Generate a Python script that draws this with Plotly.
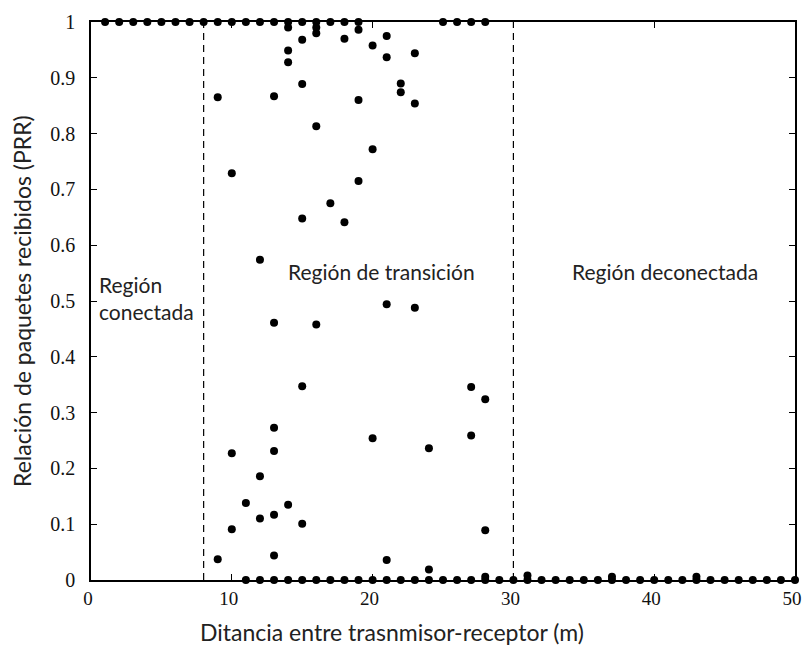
import plotly.graph_objects as go

# Measured points: distance (m) and packet reception ratio (PRR)
dist_connected = [1, 2, 3, 4, 5, 6, 7, 8, 9, 10, 11, 12, 13, 14, 15, 16, 17, 18, 19, 25, 26, 27, 28]
prr_connected = [1, 1, 1, 1, 1, 1, 1, 1, 1, 1, 1, 1, 1, 1, 1, 1, 1, 1, 1, 1, 1, 1, 1]

dist_mid = [9, 9, 10, 10, 10, 11, 12, 12, 12,
            13, 13, 13, 13, 13, 13,
            14, 14, 14, 14,
            15, 15, 15, 15, 15,
            16, 16, 16, 16,
            17, 18, 18, 19, 19, 19,
            20, 20, 20, 21, 21, 21, 21,
            22, 22, 23, 23, 23, 24, 24,
            27, 27, 28, 28]
prr_mid = [0.865, 0.037, 0.729, 0.227, 0.091, 0.138, 0.574, 0.186, 0.110,
           0.867, 0.461, 0.273, 0.231, 0.117, 0.044,
           0.990, 0.949, 0.928, 0.135,
           0.968, 0.889, 0.648, 0.347, 0.101,
           0.990, 0.980, 0.813, 0.458,
           0.675, 0.970, 0.641, 0.986, 0.860, 0.715,
           0.958, 0.772, 0.254, 0.975, 0.937, 0.494, 0.036,
           0.890, 0.874, 0.944, 0.854, 0.488, 0.236, 0.019,
           0.346, 0.259, 0.324, 0.089]

dist_lost = [11, 12, 13, 14, 15, 16, 17, 18, 19, 20, 21, 22, 23, 24, 25, 26, 27, 28, 29, 30,
             31, 32, 33, 34, 35, 36, 37, 38, 39, 40, 41, 42, 43, 44, 45, 46, 47, 48, 49, 50,
             28, 31, 37, 43]
prr_lost = [0, 0, 0, 0, 0, 0, 0, 0, 0, 0, 0, 0, 0, 0, 0, 0, 0, 0, 0, 0,
            0, 0, 0, 0, 0, 0, 0, 0, 0, 0, 0, 0, 0, 0, 0, 0, 0, 0, 0, 0,
            0.006, 0.008, 0.006, 0.006]

region_bounds = [8, 30]
x_ticks = [0, 10, 20, 30, 40, 50]
y_ticks = [0, 0.1, 0.2, 0.3, 0.4, 0.5, 0.6, 0.7, 0.8, 0.9, 1]
y_tick_text = ["0", "0.1", "0.2", "0.3", "0.4", "0.5", "0.6", "0.7", "0.8", "0.9", "1"]

region_labels = ["Región<br>conectada", "Región de transición", "Región deconectada"]
region_label_x = [0.4, 20.6, 40.8]
region_label_y = [0.505, 0.552, 0.552]

x_title = "Ditancia entre trasnmisor-receptor (m)"
y_title = "Relación de paquetes recibidos (PRR)"

fig = go.Figure()
marker = dict(color="black", size=8)
for xs, ys in [(dist_connected, prr_connected), (dist_mid, prr_mid), (dist_lost, prr_lost)]:
    fig.add_trace(go.Scatter(x=xs, y=ys, mode="markers", marker=marker,
                             cliponaxis=False, showlegend=False))

for xb in region_bounds:
    fig.add_shape(type="line", x0=xb, x1=xb, y0=0, y1=1, xref="x", yref="y",
                  line=dict(color="black", width=1.2, dash="7px,5px"), layer="below")

text_font = dict(family="Lato", size=21, color="#222")
fig.add_annotation(x=region_label_x[0], y=region_label_y[0], text=region_labels[0],
                   xanchor="left", yanchor="middle", showarrow=False, align="left",
                   font=text_font)
for i in [1, 2]:
    fig.add_annotation(x=region_label_x[i], y=region_label_y[i], text=region_labels[i],
                       xanchor="center", yanchor="middle", showarrow=False,
                       font=text_font)

title_font = dict(family="Lato", size=23, color="#222")
# axis titles (placed as paper annotations so they sit where the reference has them)
fig.add_annotation(xref="paper", yref="paper", x=0.428, y=0, yshift=-52,
                   text=x_title, showarrow=False, xanchor="center", yanchor="middle",
                   font=title_font)
fig.add_annotation(xref="paper", yref="paper", x=0, xshift=-69, y=0.5,
                   text=y_title, showarrow=False, xanchor="center", yanchor="middle",
                   textangle=-90, font=title_font)

axis_common = dict(showline=True, linecolor="black", linewidth=1.5, mirror="ticks",
                   ticks="inside", ticklen=6, tickcolor="black", tickwidth=1,
                   showgrid=False, zeroline=False, automargin=False,
                   ticklabeloverflow="allow")

fig.update_xaxes(range=[0, 50], tickvals=x_ticks, ticklabelshift=-3,
                 tickfont=dict(family="Liberation Serif", size=19, color="#111"),
                 **axis_common)
fig.update_yaxes(range=[0, 1], tickvals=y_ticks, ticktext=y_tick_text,
                 ticklabelstandoff=10,
                 tickfont=dict(family="Liberation Serif", size=20, color="#111"),
                 **axis_common)

fig.update_layout(width=803, height=645, margin=dict(l=91, r=8, t=22, b=65),
                  plot_bgcolor="white", paper_bgcolor="white")

fig.write_html("out.html")
